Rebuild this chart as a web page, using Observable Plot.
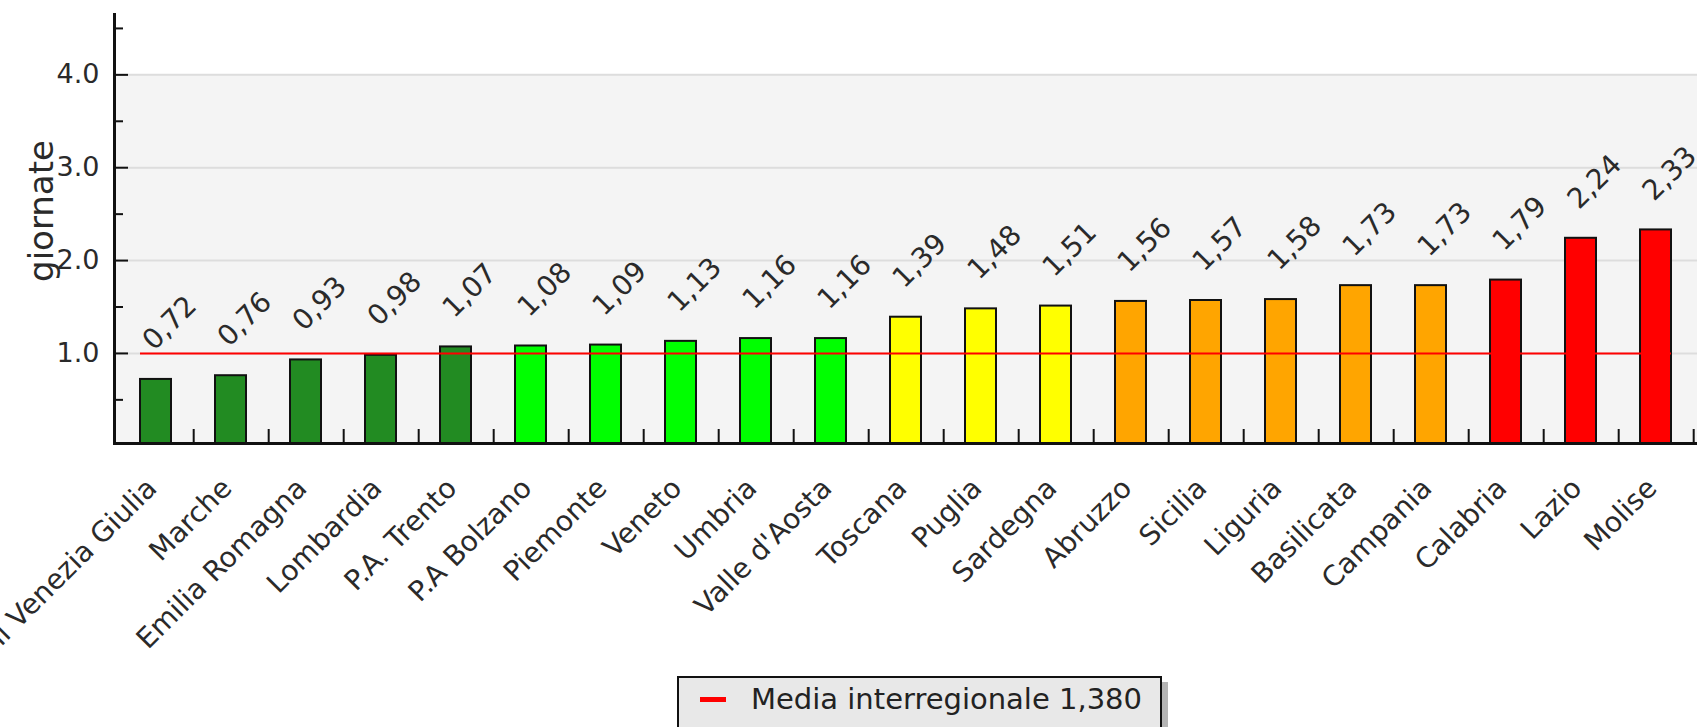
<!DOCTYPE html>
<html><head><meta charset="utf-8">
<script src="https://cdn.jsdelivr.net/npm/d3@7"></script>
<script src="https://cdn.jsdelivr.net/npm/@observablehq/plot@0.6"></script>
<style>
html,body{margin:0;padding:0;background:#fff;overflow:hidden;}
body{width:1704px;height:727px;position:relative;font-family:"DejaVu Sans",sans-serif;}
#chart{position:absolute;left:0;top:0;}
#legend{position:absolute;left:677px;top:676px;width:485px;height:56px;box-sizing:border-box;background:#e8e8e8;border:2px solid #111;box-shadow:6px 6px 0 #b4b4b4;font-size:29px;color:#222;}
#legend .sw{position:absolute;left:21px;top:19px;width:26px;height:5px;background:#ff0000;}
#legend .tx{position:absolute;left:72px;top:1px;white-space:nowrap;line-height:40px;}
</style></head><body>
<div id="chart"></div>
<div id="legend"><span class="sw"></span><span class="tx"></span></div>
<script>
// ---- data ----
const regions = ["Friuli Venezia Giulia","Marche","Emilia Romagna","Lombardia","P.A. Trento","P.A Bolzano","Piemonte","Veneto","Umbria","Valle d'Aosta","Toscana","Puglia","Sardegna","Abruzzo","Sicilia","Liguria","Basilicata","Campania","Calabria","Lazio","Molise"];
const values = [0.72,0.76,0.93,0.98,1.07,1.08,1.09,1.13,1.16,1.16,1.39,1.48,1.51,1.56,1.57,1.58,1.73,1.73,1.79,2.24,2.33];
const colors = ["#228b22","#228b22","#228b22","#228b22","#228b22","#00ff00","#00ff00","#00ff00","#00ff00","#00ff00","#ffff00","#ffff00","#ffff00","#ffa500","#ffa500","#ffa500","#ffa500","#ffa500","#ff0000","#ff0000","#ff0000"];
const mediaLevel = [1.0];
const legendLabel = "Media interregionale 1,380";
const yTickLabels = [1.0, 2.0, 3.0, 4.0];
const yMinorTicks = [0.5, 1.5, 2.5, 3.5, 4.5];
const yDomain = [0.03, 4.65];
const yTitle = "giornate";

// ---- chart ----
const W = 1704, H = 670, ml = 114, mr = 7, mt = 14, mb = 227;
const step = (W - ml - mr) / regions.length;
const data = regions.map((r, i) => ({region: r, value: values[i], color: colors[i]}));
const fmtComma = v => d3.format(".2f")(v).replace(".", ",");

const chart = Plot.plot({
  width: W, height: H,
  marginLeft: ml, marginRight: mr, marginTop: mt, marginBottom: mb,
  style: {fontFamily: "'DejaVu Sans', sans-serif", fontSize: "28px", color: "#2a2a2a", background: "transparent", overflow: "visible"},
  x: {domain: regions, paddingInner: 0.59, paddingOuter: 0.295, axis: null},
  y: {domain: yDomain, axis: null},
  color: {type: "identity"},
  marks: [
    Plot.rect([0], {y1: () => yDomain[0], y2: () => d3.max(yTickLabels), fill: "#f4f4f4"}),
    Plot.ruleY(yTickLabels, {stroke: "#dddddd", strokeWidth: 2}),
    Plot.barY(data, {x: "region", y1: () => yDomain[0], y2: "value", fill: "color", stroke: "#111", strokeWidth: 2}),
    Plot.ruleY(mediaLevel, {x1: () => regions[0], x2: () => regions[regions.length - 1], stroke: "#ff0000", strokeWidth: 2}),
    Plot.text(data, {x: "region", y: "value", text: d => fmtComma(d.value), rotate: -45, textAnchor: "start", lineAnchor: "bottom", dx: -2, dy: -28, fontSize: 28, fill: "#2a2a2a"}),
    Plot.ruleY([yDomain[0]], {stroke: "#111", strokeWidth: 3}),
    Plot.frame({anchor: "left", stroke: "#111", strokeWidth: 3}),
    Plot.axisY(yTickLabels, {tickSize: -14, tickPadding: 29, tickFormat: d3.format(".1f"), strokeWidth: 2, stroke: "#111", label: null, fontSize: 27}),
    Plot.axisY(yMinorTicks, {tickSize: -9, tickFormat: () => "", strokeWidth: 2, stroke: "#111", label: null}),
    Plot.axisX({tickSize: -14, dx: step / 2, tickFormat: () => "", strokeWidth: 2, stroke: "#111", label: null}),
    Plot.axisX({tickSize: 0, tickRotate: -45, tickPadding: 40, dx: -4, fontSize: 28, label: null}),
    Plot.text([yTitle], {frameAnchor: "left", textAnchor: "middle", rotate: -90, dx: -72, dy: -18, fontSize: 34, fill: "#2a2a2a"})
  ]
});
document.getElementById("chart").appendChild(chart);
document.querySelector("#legend .tx").textContent = legendLabel;
</script>
</body></html>
